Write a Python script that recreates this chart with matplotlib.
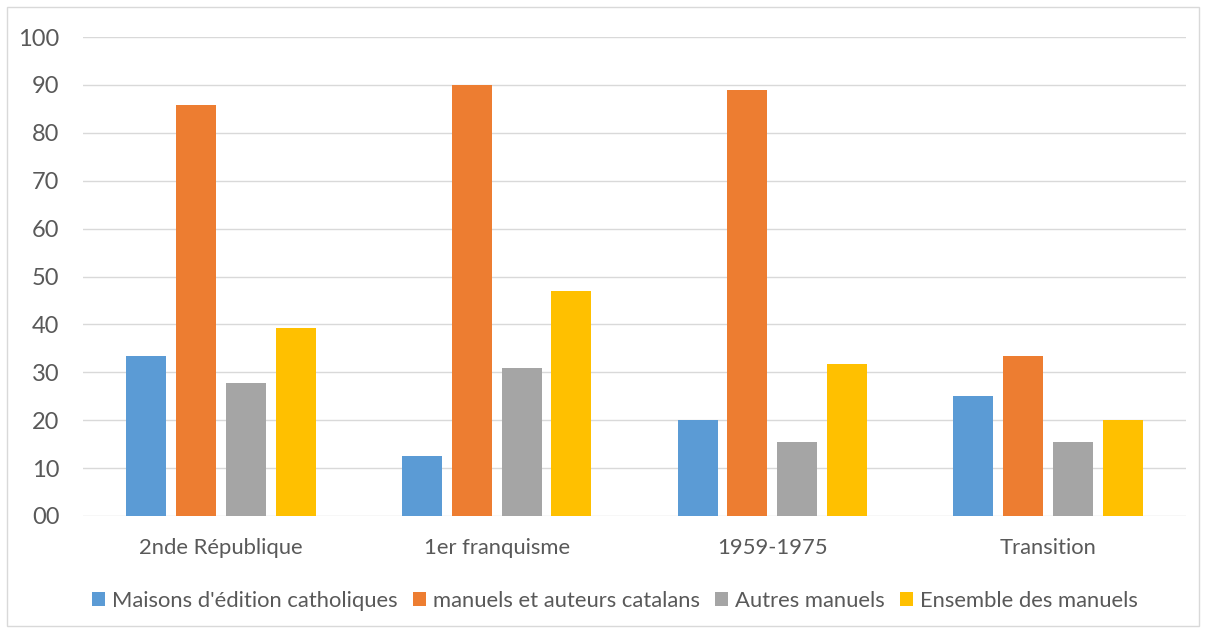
import matplotlib
matplotlib.use("Agg")
import matplotlib.pyplot as plt
from matplotlib.patches import Rectangle, Patch
import numpy as np

categories = ["2nde République", "1er franquisme", "1959-1975", "Transition"]
series_names = ["Maisons d'édition catholiques", "manuels et auteurs catalans",
                "Autres manuels", "Ensemble des manuels"]
maisons = [33.3, 12.5, 20.0, 25.0]
catalans = [85.7, 90.0, 88.9, 33.3]
autres = [27.8, 30.8, 15.4, 15.4]
ensemble = [39.3, 46.9, 31.8, 20.0]
colors = ["#5B9BD5", "#ED7D31", "#A5A5A5", "#FFC000"]
yticks = [0, 10, 20, 30, 40, 50, 60, 70, 80, 90, 100]
ytick_labels = ["00", "10", "20", "30", "40", "50", "60", "70", "80", "90", "100"]

plt.rcParams['font.family'] = ['Lato', 'DejaVu Sans']
W, H = 1206, 633
fig = plt.figure(figsize=(W / 100, H / 100), dpi=100)
fig.patches.append(Rectangle((7 / W, 7 / H), 1192 / W, 619 / H, transform=fig.transFigure,
                             fill=False, edgecolor="#D9D9D9", linewidth=1))
ax = fig.add_axes([83 / W, 1 - 516 / H, 1103 / W, 479 / H])

x = np.arange(len(categories))
bw = 0.145
pitch = 0.181
data = [maisons, catalans, autres, ensemble]
for i, (vals, c) in enumerate(zip(data, colors)):
    ax.bar(x + (i - 1.5) * pitch, vals, width=bw, color=c, zorder=3, label=series_names[i])

ax.set_xlim(-0.5, len(categories) - 0.5)
ax.set_ylim(0, 100)
ax.set_yticks(yticks)
ax.set_yticklabels(ytick_labels)
ax.set_xticks(x)
ax.set_xticklabels(categories)
ax.grid(axis="y", color="#D9D9D9", linewidth=1, zorder=0)
for s in ax.spines.values():
    s.set_visible(False)
ax.tick_params(axis="both", length=0, colors="#595959")
ax.tick_params(axis="y", pad=17, labelsize=17)
ax.tick_params(axis="x", pad=15.5, labelsize=15.8)

handles = [Patch(facecolor=c, edgecolor="none") for c in colors]
fig.legend(handles, series_names, loc="center", bbox_to_anchor=(615 / W, 1 - 601 / H), ncol=4,
           frameon=False, fontsize=15.8, labelcolor="#595959", handlelength=0.6,
           handleheight=0.6, handletextpad=0.3, columnspacing=0.7)

fig.savefig("out.png", dpi=100, facecolor="white")
